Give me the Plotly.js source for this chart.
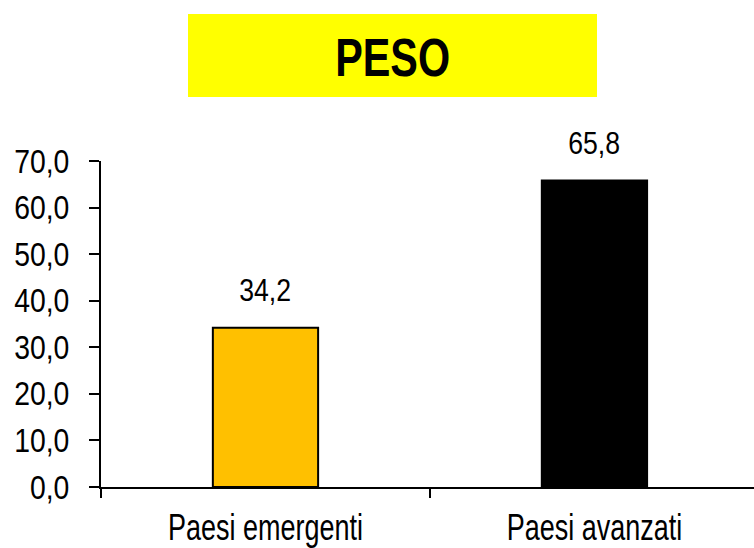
<!DOCTYPE html>
<html><head><meta charset="utf-8">
<script src="https://cdn.plot.ly/plotly-3.0.1.min.js"></script>
<style>html,body{margin:0;padding:0;background:#fff}#c{width:754px;height:548px}</style>
</head><body><div id="c"></div>
<script>
const categories = ["Paesi emergenti", "Paesi avanzati"];
const values = [34.2, 65.8];
const barColors = ["#FFC000", "#000000"];
const yTicks = [0, 10, 20, 30, 40, 50, 60, 70];
const chartTitle = "PESO";

const FONT = "Liberation Sans, Arial, sans-serif";
const fmt = v => v.toFixed(1).replace(".", ",");

const trace = {
  type: "bar",
  x: categories,
  y: values,
  width: 0.32,
  marker: {color: barColors, line: {color: "#000", width: 2}},
  hoverinfo: "none"
};

const layout = {
  width: 754, height: 548,
  margin: {l: 101, r: 0, t: 161, b: 61},
  paper_bgcolor: "#fff", plot_bgcolor: "#fff",
  separators: ",.",
  showlegend: false,
  font: {family: FONT, color: "#000"},
  xaxis: {
    type: "category",
    range: [-0.5, 1.485],
    tickson: "boundaries",
    ticks: "outside", ticklen: 9, tickwidth: 2, tickcolor: "#000",
    showline: true, linecolor: "#000", linewidth: 2,
    showgrid: false, zeroline: false,
    tickfont: {family: FONT, size: 36, color: "#000"},
    ticklabelstandoff: 8,
    fixedrange: true
  },
  yaxis: {
    range: [0, 70],
    tickmode: "array", tickvals: yTicks,
    tickformat: ".1f",
    ticks: "outside", ticklen: 10, tickwidth: 2, tickcolor: "#000",
    showline: true, linecolor: "#000", linewidth: 2,
    showgrid: false, zeroline: false,
    tickfont: {family: FONT, size: 33, color: "#000"},
    ticklabelstandoff: 13,
    fixedrange: true
  },
  shapes: [{
    type: "rect", xref: "paper", yref: "paper",
    x0: (188 - 101) / 653, x1: (597 - 101) / 653,
    y0: (487 - 97) / 326, y1: (487 - 14) / 326,
    fillcolor: "#FFFF00", line: {width: 0}, layer: "above"
  }],
  annotations: [{
    xref: "paper", yref: "paper",
    x: (392 - 101) / 653, y: (487 - 57) / 326,
    xanchor: "center", yanchor: "middle",
    text: "<b>" + chartTitle + "</b>", showarrow: false,
    font: {family: FONT, size: 53, color: "#000"}
  }].concat(categories.map((c, i) => ({
    xref: "x", yref: "y", x: c, y: values[i],
    xanchor: "center", yanchor: "bottom", yshift: 18,
    text: fmt(values[i]), showarrow: false,
    font: {family: FONT, size: 31, color: "#000"}
  })))
};

function squeeze(el, s) {
  const x = parseFloat(el.getAttribute("x")) || 0;
  const prev = el.getAttribute("transform") || "";
  el.setAttribute("transform", (prev + ` translate(${x},0) scale(${s},1) translate(${-x},0)`).trim());
}

Plotly.newPlot("c", [trace], layout, {displayModeBar: false, staticPlot: true}).then(gd => {
  gd.querySelectorAll(".xtick text").forEach(t => squeeze(t, 0.75));
  gd.querySelectorAll(".ytick text").forEach(t => squeeze(t, 0.86));
  const ann = gd.querySelectorAll(".annotation-text");
  ann.forEach((t, i) => squeeze(t, i === 0 ? 0.78 : 0.86));
});
</script></body></html>
